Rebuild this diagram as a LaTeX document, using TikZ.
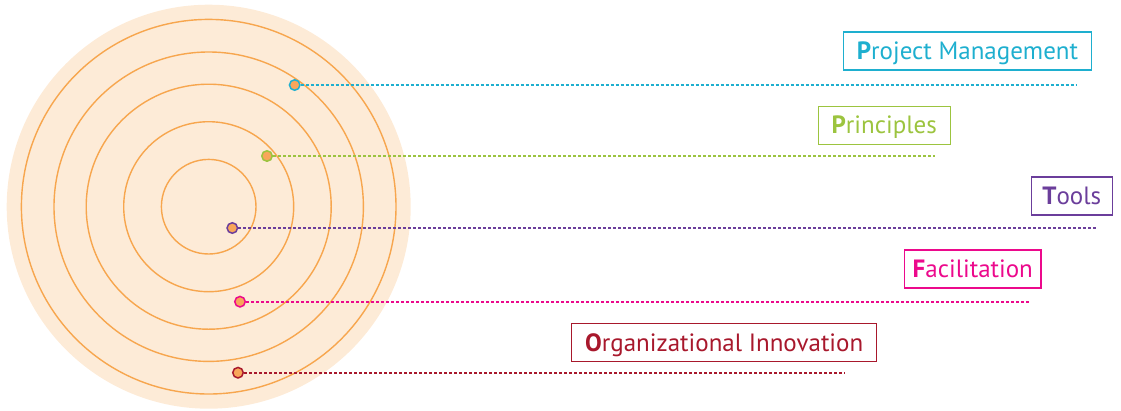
\documentclass[tikz,border=0pt]{standalone}
\usepackage{fontspec}
\setmainfont{PT Sans}
\definecolor{discfill}{HTML}{FDEBD7}
\definecolor{ringline}{HTML}{F7A64E}
\definecolor{dotfill}{HTML}{F8A65A}
\definecolor{pmcyan}{HTML}{1EAFCF}
\definecolor{prgreen}{HTML}{9CC43F}
\definecolor{tlpurple}{HTML}{6B3E9B}
\definecolor{fcpink}{HTML}{EC098C}
\definecolor{oired}{HTML}{A8182C}
\begin{document}
\begin{tikzpicture}[x=1pt, y=-1pt,
		ring/.style={draw=ringline, line width=1.4pt},
		dot/.style={circle, draw=#1, fill=dotfill, line width=1.5pt, minimum size=10.5pt, inner sep=0pt},
		lead/.style={draw=#1, line width=1.6pt, dash pattern=on 3pt off 2pt},
		lbl/.style={draw=#1, text=#1, line width=1.4pt, inner xsep=8pt, inner ysep=0pt,
			minimum height=38pt, text height=17.5pt, text depth=0pt,
			font=\fontsize{25}{29}\selectfont}]

		\useasboundingbox (0,0) rectangle (1121,410);

		\fill[discfill] (208.7,206.7) circle (202);
		\draw[ring] (208.7,206.7) circle (47.3);
		\draw[ring] (208.7,206.7) circle (85);
		\draw[ring] (208.7,206.7) circle (122.5);
		\draw[ring] (208.7,206.7) circle (154.7);
		\draw[ring] (208.7,206.7) circle (187.3);

		\node[lbl=pmcyan, minimum width=248pt] (pmbox) at (967.5,50.8) {\textbf{P}roject Management};
		\node[lbl=prgreen, minimum width=132pt] (prbox) at (884.2,125.2) {\textbf{P}rinciples};
		\node[lbl=tlpurple, minimum width=81pt] (tlbox) at (1071.7,195.8) {\textbf{T}ools};
		\node[lbl=fcpink, minimum width=136pt] (fcbox) at (972.8,269) {\textbf{F}acilitation};
		\node[lbl=oired, minimum width=305pt] (oibox) at (724.2,342.7) {\textbf{O}rganizational Innovation};

		\node[dot=pmcyan] (pmdot) at (294.7,85) {};
		\node[dot=prgreen] (prdot) at (267,156) {};
		\node[dot=tlpurple] (tldot) at (232.3,228) {};
		\node[dot=fcpink] (fcdot) at (240,301.7) {};
		\node[dot=oired] (oidot) at (238,372.7) {};

		\coordinate (pmend) at (1076,85);
		\coordinate (prend) at (935,156);
		\coordinate (tlend) at (1097,228);
		\coordinate (fcend) at (1030,301.7);
		\coordinate (oiend) at (845,372.7);

		\draw[lead=pmcyan] (pmdot) -- (pmend);
		\draw[lead=prgreen] (prdot) -- (prend);
		\draw[lead=tlpurple] (tldot) -- (tlend);
		\draw[lead=fcpink] (fcdot) -- (fcend);
		\draw[lead=oired] (oidot) -- (oiend);
	\end{tikzpicture}
\end{document}
